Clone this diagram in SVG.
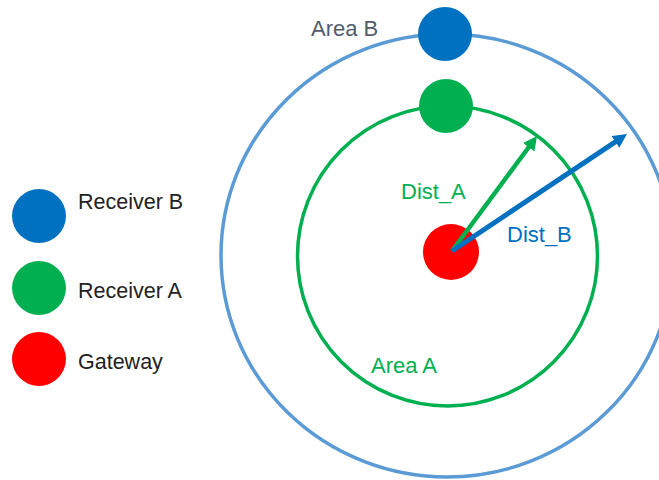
<svg xmlns="http://www.w3.org/2000/svg" width="659" height="480" viewBox="0 0 659 480">
  <style>
    text { font-family: "Liberation Sans", Arial, sans-serif; }
    .legend { font-size: 21.5px; fill: #222222; }
    .lbl { font-size: 22px; }
    .area { fill: none; stroke-width: 3.5; }
  </style>
  <defs>
    <marker id="headGreen" markerUnits="userSpaceOnUse" markerWidth="16" markerHeight="16" refX="4" refY="7" orient="auto">
      <path d="M0,0 L14,7 L0,14 z" fill="#00b050"/>
    </marker>
    <marker id="headBlue" markerUnits="userSpaceOnUse" markerWidth="16" markerHeight="16" refX="4" refY="7" orient="auto">
      <path d="M0,0 L14,7 L0,14 z" fill="#0070c0"/>
    </marker>
  </defs>
  <rect width="659" height="480" fill="#ffffff"/>

  <!-- coverage areas -->
  <g id="areaB">
    <ellipse class="area" cx="447" cy="255.5" rx="226" ry="221.5" stroke="#5b9bd5"/>
    <text class="lbl" x="311" y="36" fill="#525c6b">Area B</text>
  </g>
  <g id="areaA">
    <circle class="area" cx="447.5" cy="256" r="150" stroke="#00b050"/>
    <text class="lbl" x="371" y="373" fill="#00b050">Area A</text>
  </g>

  <!-- receivers on the area boundaries -->
  <g id="receiverB">
    <circle cx="445" cy="34" r="27" fill="#0070c0"/>
  </g>
  <g id="receiverA">
    <circle cx="446" cy="106" r="27" fill="#00b050"/>
  </g>

  <!-- gateway -->
  <g id="gateway">
    <circle cx="451" cy="252" r="28" fill="#ff0000"/>
  </g>

  <!-- distance arrows -->
  <g id="connectors">
    <line x1="452" y1="251" x2="531.1" y2="144" stroke="#00b050" stroke-width="4.5" marker-end="url(#headGreen)"/>
    <line x1="452" y1="251" x2="618.7" y2="139.6" stroke="#0070c0" stroke-width="5" marker-end="url(#headBlue)"/>
    <text class="lbl" x="401" y="199" fill="#00b050">Dist_A</text>
    <text class="lbl" x="507" y="242" fill="#0070c0">Dist_B</text>
  </g>

  <!-- legend -->
  <g id="legendReceiverB">
    <circle cx="39" cy="216" r="27" fill="#0070c0"/>
    <text class="legend" x="78" y="209">Receiver B</text>
  </g>
  <g id="legendReceiverA">
    <circle cx="39" cy="288" r="27" fill="#00b050"/>
    <text class="legend" x="78" y="298">Receiver A</text>
  </g>
  <g id="legendGateway">
    <circle cx="39" cy="359" r="27" fill="#ff0000"/>
    <text class="legend" x="78" y="369">Gateway</text>
  </g>
</svg>
